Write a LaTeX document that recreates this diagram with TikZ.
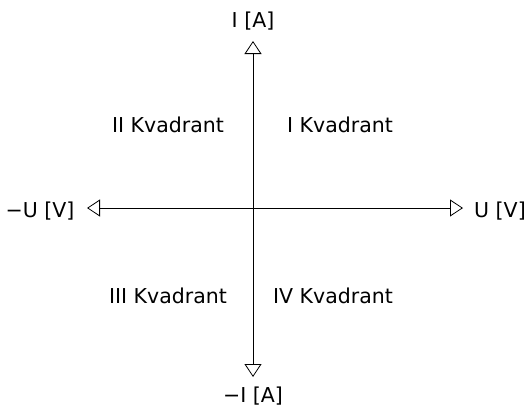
\documentclass[tikz,border=0pt]{standalone}
\usepackage{fontspec}
\setmainfont{DejaVu Sans}
\usetikzlibrary{arrows.meta}

\begin{document}
\begin{tikzpicture}[x=1pt,y=-1pt,>={Triangle[open,length=13pt,width=17pt]},
    lbl/.style={font=\fontsize{20.5}{22}\selectfont,inner sep=0pt}]
  \useasboundingbox (0,0) rectangle (526,407);

  \node[lbl] (iplus) at (253,21) {I [A]};
  \node[lbl] (iminus) at (253,396) {−I [A]};
  \node[lbl] (uminus) at (40,211) {−U [V]};
  \node[lbl] (uplus) at (500,211) {U [V]};

  \coordinate (top) at (253,41);
  \coordinate (bot) at (253,377);
  \coordinate (left) at (87,208);
  \coordinate (right) at (463,208);

  \draw[<->,line width=0.8pt] (left) -- (right);
  \draw[<->,line width=0.8pt] (bot) -- (top);

  \node[lbl] (q2) at (168,125) {II Kvadrant};
  \node[lbl] (q1) at (340,125) {I Kvadrant};
  \node[lbl] (q3) at (168,296) {III Kvadrant};
  \node[lbl] (q4) at (333,296) {IV Kvadrant};
\end{tikzpicture}
\end{document}
